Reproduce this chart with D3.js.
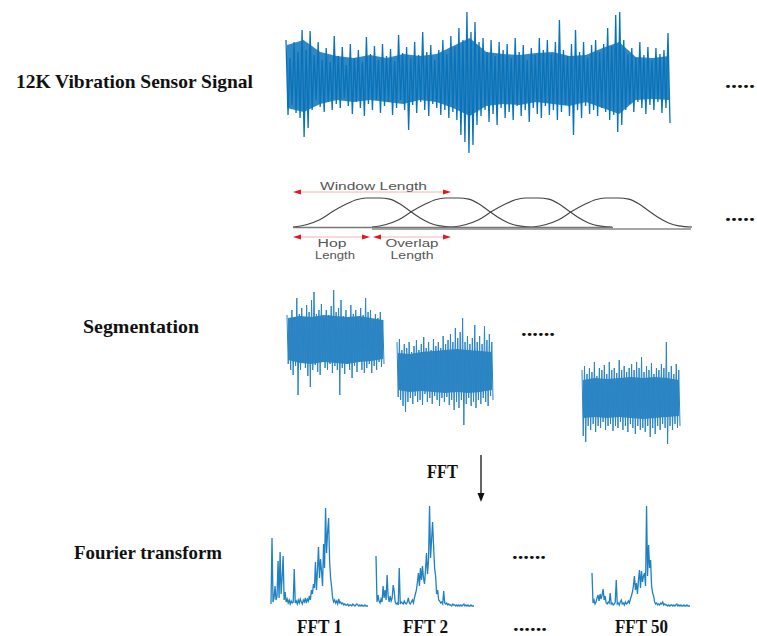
<!DOCTYPE html>
<html>
<head>
<meta charset="utf-8">
<script src="https://cdn.jsdelivr.net/npm/d3@7/dist/d3.min.js"></script>
<style>
  body { margin: 0; background: #fff; }
  .lbl { font-family: "Liberation Serif", "Times New Roman", serif; font-weight: bold; fill: #111; }
  .wtxt { font-family: "Liberation Sans", Arial, sans-serif; fill: #555; }
</style>
</head>
<body>
<div class="chart"></div>
<script>
// raw signal: peak up / peak down per step
var sigUp = [40,22,38,28,50,30,49,25,38,20, 32,18,44,24,33,15,36,22,30,18,
  43,26,34,20,36,24,31,19,45,27, 33,22,38,25,48,28,35,20,30,40,
  26,44,33,52,40,68,48,58,38,42, 28,40,24,38,30,36,22,42,28,35,
  20,32,25,42,30,40,26,38,60,30, 24,36,50,28,38,22,35,40,28,36,
  52,34,65,68,40,26,32,22,38,25, 33,20,32,26,30,47];
var sigDown = [35,25,33,38,57,48,30,20,27,32, 22,30,24,28,18,26,34,22,28,36,
  24,30,20,33,26,22,35,28,20,30, 50,25,33,22,30,36,24,28,35,30,
  38,32,40,55,62,73,65,45,36,30, 42,34,45,28,38,32,40,26,36,30,
  42,28,34,38,26,35,30,40,32,25, 36,55,30,38,26,34,30,36,28,32,
  40,35,52,45,30,24,32,22,28,34, 25,30,22,33,28,43];
// dense (solid) part of the signal band
var coreUp = [35,40,28,24,22,25,22,26,24,26,34,42,28,26,25,27,28,24,25,32,38,23,22,24];
var coreDown = [28,32,24,20,22,20,22,24,20,22,28,36,26,24,25,22,24,26,22,28,34,20,19,20];

// segments
var seg1Up = [25,20,30,22,42,26,32,20,35,28, 40,48,26,30,36,22,30,25,34,50, 28,32,40,24,30,22,35,26,30,20, 32,25,42,28,30,20,26,22,28,20];
var seg1Down = [24,30,35,26,55,30,22,28,36,47, 30,25,32,35,22,28,30,24,33,26, 30,55,28,34,24,30,38,26,32,22, 30,33,28,24,33,26,30,22,27,24];
var seg2Up = [30,33,22,28,24,30,20,26,32,22, 28,35,24,30,22,33,26,30,24,36, 28,32,38,30,44,34,40,54,30,36, 28,34,47,30,36,28,46,32,38,30];
var seg2Down = [25,28,34,40,30,26,32,24,30,28, 33,22,30,26,32,24,28,34,26,30, 25,33,28,38,30,36,28,53,32,26, 34,30,36,28,32,26,30,34,24,28];
var seg3Up = [28,32,24,30,26,36,22,30,28,33, 24,36,28,30,25,38,28,32,26,30, 34,28,36,30,41,26,32,28,35,24, 30,28,34,30,56,26,32,24,34,28];
var seg3Down = [38,44,28,32,26,34,28,30,24,32, 28,26,33,28,30,24,32,28,34,26, 30,36,28,32,30,34,28,39,30,36, 28,32,26,30,46,28,32,26,30,28];
var seg1CoreUp = [22,24,23,25,24,23,24,22,20], seg1CoreDown = [20,23,24,22,23,24,22,21,19];
var seg2CoreUp = [19,18,20,21,22,23,22,21,20], seg2CoreDown = [18,20,19,20,21,20,21,20,18];
var seg3CoreUp = [18,20,19,20,21,20,21,20,18], seg3CoreDown = [20,19,20,19,20,21,20,19,18];

// spectra
var fft1 = [4,70,6,10,22,8,12,47,10,56, 14,30,52,8,16,6,9,5,8,4, 7,5,6,39,5,7,4,8,5,9,
  6,4,8,6,10,5,9,7,12,8, 18,14,24,20,46,18,38,61,30,49, 37,22,64,40,100,55,76,90,47,30,
  21,10,6,8,5,7,4,9,5,6, 4,5,3,4,3, 3,4,2,3,3,2,4,3,2,3, 4,3,2,3,2,3,2,2,3,2,2,2];
var fft2 = [52,6,13,7,5,9,6,22,10,18, 8,33,12,6,12,7,10,23,17,6, 4,5,3,40,4,6,5,4,7,5,
  4,6,10,5,4,6,8,5,10,14, 18,26,35,22,40,28,42,30,24,38, 55,34,48,102,50,68,86,62,40,32,
  14,18,8,7,5,6,4,17,5,4, 5,3,4,3,3,2,4,3,3,2, 3,2,3,2,3,2,3,4,2,3, 2,3,2,2,3,2,2,2];
var fft50 = [35,5,8,4,6,10,13,7,14,9, 13,19,8,12,5,4,6,5,15,4, 5,3,4,6,28,4,5,3,6,8,
  4,5,3,6,4,5,7,5,9,12, 16,22,32,18,25,14,28,38,20,37, 26,32,35,22,102,32,63,40,48,22,
  15,12,6,4,5,3,4,3,5,4, 6,3,4,3,3,2,3,2,3,3, 2,3,2,3,4,2,3,2,3,2, 2,3,2,2,3,2,2,2];

// window shape (t, height)
var winShape = [[0,0],[0.083,0.08],[0.167,0.25],[0.25,0.54],[0.333,0.79],[0.396,0.94],[0.458,1],
  [0.542,1],[0.604,0.96],[0.667,0.8],[0.729,0.56],[0.792,0.32],[0.854,0.14],[0.917,0.04],[1,0]];
var winStarts = [293, 372, 452, 532];

var fftLabels = ["FFT 1", "FFT 2", "FFT 50"];

var width = 757, height = 636;
var blue = "#0a72b8";

var svg = d3.select(".chart").append("svg")
  .attr("width", width).attr("height", height);

function zigzag(up, down) {
  var pts = [];
  up.forEach(function(u, k) {
    pts.push(u);
    pts.push(-down[k]);
  });
  return pts;
}

function drawSignal(up, down, cUp, cDown, x0, x1, cy, amp, sw, col, spikeCol) {
  var pts = zigzag(up, down);
  var x = d3.scaleLinear().domain([0, pts.length - 1]).range([x0, x1]);
  var xc = d3.scaleLinear().domain([0, cUp.length - 1]).range([x0 + 1, x1 - 1]);
  var y = d3.scaleLinear().domain([-amp, amp]).range([cy + amp, cy - amp]);
  var g = svg.append("g");
  g.append("path")
    .datum(cUp)
    .attr("d", d3.area()
      .x(function(d, i) { return xc(i); })
      .y0(function(d, i) { return y(-cDown[i]); })
      .y1(function(d) { return y(d); }))
    .attr("fill", col)
    .attr("opacity", 0.85);
  g.append("path")
    .datum(pts)
    .attr("d", d3.line().x(function(d, i) { return x(i); }).y(function(d) { return y(d); }))
    .attr("fill", "none")
    .attr("stroke", spikeCol)
    .attr("stroke-width", sw);
}

// top signal
drawSignal(sigUp, sigDown, coreUp, coreDown, 286, 670, 80, 75, 1.3, blue, blue);

// segments
drawSignal(seg1Up, seg1Down, seg1CoreUp, seg1CoreDown, 287, 384, 340, 60, 1, "#0d74b9", "#2a84c5");
drawSignal(seg2Up, seg2Down, seg2CoreUp, seg2CoreDown, 397, 493, 372, 60, 1, "#0d74b9", "#2a84c5");
drawSignal(seg3Up, seg3Down, seg3CoreUp, seg3CoreDown, 582, 680, 398, 60, 1, "#0d74b9", "#2a84c5");

// windows
var wy = d3.scaleLinear().domain([0, 1]).range([227, 198]);
var wline = d3.line()
  .x(function(d) { return d[0]; })
  .y(function(d) { return wy(d[1]); })
  .curve(d3.curveMonotoneX);
var wg = svg.append("g");
winStarts.forEach(function(s) {
  var wx = d3.scaleLinear().domain([0, 1]).range([s, s + 160]);
  wg.append("path")
    .datum(winShape.map(function(p) { return [wx(p[0]), p[1]]; }))
    .attr("d", wline)
    .attr("fill", "none")
    .attr("stroke", "#444")
    .attr("stroke-width", 1.1);
});
wg.append("line").attr("x1", 293).attr("x2", 613).attr("y1", 227.5).attr("y2", 227.5)
  .attr("stroke", "#777").attr("stroke-width", 1.3);
wg.append("line").attr("x1", 372).attr("x2", 691).attr("y1", 229).attr("y2", 229)
  .attr("stroke", "#888").attr("stroke-width", 1.3);

function redArrow(xa, xb, y) {
  wg.append("line").attr("x1", xa + 4).attr("x2", xb - 4).attr("y1", y).attr("y2", y)
    .attr("stroke", "#f4a0a0").attr("stroke-width", 0.8);
  wg.append("path").attr("d", "M" + xa + "," + y + "l8,-2.5l0,5z").attr("fill", "#e8161b");
  wg.append("path").attr("d", "M" + xb + "," + y + "l-8,-2.5l0,5z").attr("fill", "#e8161b");
}
redArrow(293, 451, 192);
redArrow(293, 370, 237);
redArrow(373, 451, 237);

wg.append("text").attr("class", "wtxt").attr("x", 320).attr("y", 190)
  .attr("font-size", 10.5).attr("textLength", 107).attr("lengthAdjust", "spacingAndGlyphs")
  .text("Window Length");
[["Hop", 332, 247, 29], ["Length", 335, 258.5, 40], ["Overlap", 412, 247, 53], ["Length", 412, 258.5, 43]]
  .forEach(function(t) {
    wg.append("text").attr("class", "wtxt").attr("x", t[1]).attr("y", t[2])
      .attr("text-anchor", "middle").attr("font-size", 10)
      .attr("textLength", t[3]).attr("lengthAdjust", "spacingAndGlyphs")
      .text(t[0]);
  });

// spectra
var fftBoxes = [[fft1, 271, 368], [fft2, 376, 474], [fft50, 592, 690]];
fftBoxes.forEach(function(b) {
  var x = d3.scaleLinear().domain([0, b[0].length - 1]).range([b[1], b[2]]);
  var y = d3.scaleLinear().domain([0, 100]).range([608, 508]);
  svg.append("path")
    .datum(b[0])
    .attr("d", d3.line().x(function(d, i) { return x(i); }).y(function(d) { return y(d); }))
    .attr("fill", "none")
    .attr("stroke", "#1f80c2")
    .attr("stroke-width", 1.3);
});

// labels
function label(txt, x, y, len, size, anchor) {
  svg.append("text").attr("class", "lbl")
    .attr("x", x).attr("y", y)
    .attr("font-size", size)
    .attr("text-anchor", anchor || "start")
    .attr("textLength", len).attr("lengthAdjust", "spacingAndGlyphs")
    .text(txt);
}
label("12K Vibration Sensor Signal", 16, 88, 237, 19);
label("Segmentation", 83, 333, 116, 19);
label("Fourier transform", 74, 559, 148, 19);
label("FFT", 427, 478, 31, 19);
label(fftLabels[0], 297, 633, 45, 19);
label(fftLabels[1], 403, 633, 45, 19);
label(fftLabels[2], 615, 633, 53, 19);
label("......", 513, 631, 34, 18);
label("......", 521, 336, 34, 18);
label(".....", 725, 88, 30, 18);
label(".....", 725, 221, 30, 18);
label("......", 512, 559, 34, 18);

// FFT arrow
svg.append("line").attr("x1", 481).attr("x2", 481).attr("y1", 455).attr("y2", 495)
  .attr("stroke", "#111").attr("stroke-width", 1.3);
svg.append("path").attr("d", "M481,502l-3.5,-9l7,0z").attr("fill", "#111");
</script>
</body>
</html>
